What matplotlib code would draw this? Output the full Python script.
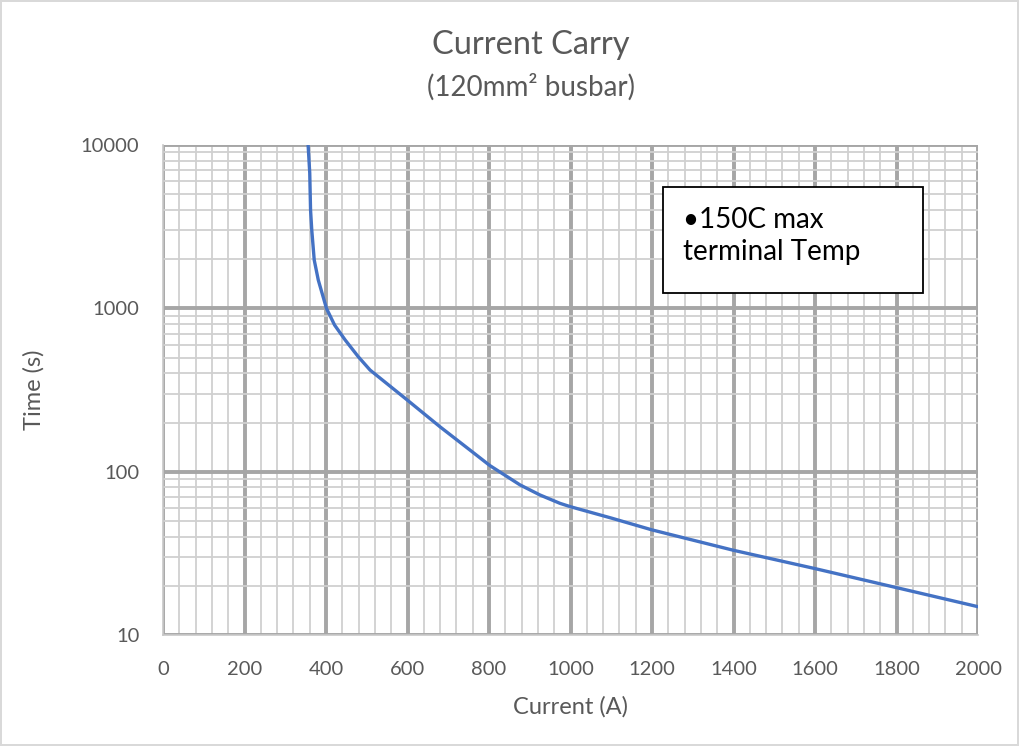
import numpy as np
import matplotlib.pyplot as plt
from matplotlib.patches import Rectangle

plt.rcParams['font.family'] = ['Lato', 'DejaVu Sans']

# values
current = [356, 360, 362, 365, 371, 381, 401, 421, 447, 479, 508, 599, 680, 761, 802,
           876, 925, 974, 1000, 1100, 1200, 1400, 1600, 1800, 2000]
time_s = [10000, 6740, 4000, 3010, 1977, 1489, 1000, 790, 640, 506, 419, 275, 188, 131, 109,
          83, 72, 64, 61, 52, 44, 33, 25.5, 19.5, 14.9]
x_ticks = [0, 200, 400, 600, 800, 1000, 1200, 1400, 1600, 1800, 2000]
y_ticks = [10, 100, 1000, 10000]

fig = plt.figure(figsize=(10.19, 7.46), dpi=100)
fig.patch.set_edgecolor('#d9d9d9')
fig.patch.set_linewidth(1.5)
ax = fig.add_axes([0.16, 0.1488, 0.7998, 0.6568])

ax.set_yscale('log')
ax.set_xlim(0, 2000)
ax.set_ylim(10, 10000)
ax.set_xticks(x_ticks)
ax.set_yticks(y_ticks)
ax.set_yticklabels([str(v) for v in y_ticks])
ax.set_xticks(np.arange(0, 2001, 40), minor=True)
ax.set_yticks([m * 10 ** d for d in range(1, 4) for m in range(2, 10)], minor=True)
ax.yaxis.set_minor_formatter(plt.NullFormatter())

ax.grid(which='minor', color='#d0d0d0', lw=1.3, zorder=0)
ax.grid(which='major', color='#a6a6a6', lw=2.8, zorder=1)
ax.set_axisbelow(True)
ax.tick_params(which='both', length=0, labelsize=14.5, labelcolor='#595959')
ax.tick_params(axis='x', pad=19)
ax.tick_params(axis='y', pad=17)

for s in ['top', 'right']:
    ax.spines[s].set_visible(False)
for s in ['left', 'bottom']:
    ax.spines[s].set_color('#c8c8c8')
    ax.spines[s].set_linewidth(1.2)

ax.plot(current, time_s, color='#4472c4', lw=2.4, zorder=3)

ax.set_xlabel('Current (A)', fontsize=17, color='#595959', labelpad=13)
ax.set_ylabel('Time (s)', fontsize=17, color='#595959', labelpad=26)

fig.text(0.521, 0.94, 'Current Carry', ha='center', va='center', fontsize=23.5, color='#595959')
fig.text(0.521, 0.883, '(120mm\u00b2 busbar)', ha='center', va='center', fontsize=20, color='#595959')

ax.add_patch(Rectangle((0.6135, 0.698), 0.319, 0.216, transform=ax.transAxes,
                       facecolor='white', edgecolor='black', lw=1.3, zorder=5))
ax.text(0.638, 0.814, '\u2022150C max\nterminal Temp', transform=ax.transAxes,
        ha='left', va='center', fontsize=20, color='black', linespacing=1.3, zorder=6)

fig.savefig('out.png', dpi=100)
